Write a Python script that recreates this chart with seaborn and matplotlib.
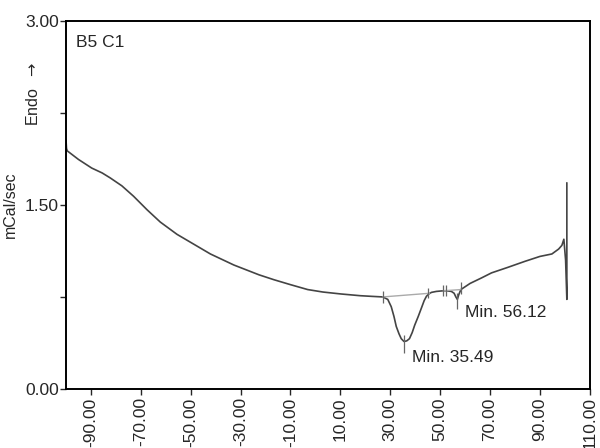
import seaborn as sns
import pandas as pd
import matplotlib.pyplot as plt
from matplotlib.ticker import MultipleLocator, FormatStrFormatter

# DSC trace
temp = [-100.0, -99.8, -99.5, -95.0, -89.7, -85.5, -82.3, -77.6, -72.9, -67.5, -62.2, -55.5,
        -48.8, -42.1, -32.7, -22.6, -16.6, -10.0, -3.1, 3.0, 10.3, 18.0, 22.3, 27.0,
        29.0, 30.4, 31.5, 32.4, 33.5, 34.4, 35.5, 36.6, 37.7, 38.8, 39.8, 41.2, 42.5,
        43.6, 44.5, 45.5, 46.5, 48.5, 51.2, 52.5, 54.5, 55.6, 56.3, 56.9, 57.5, 58.3,
        62.0, 66.6, 70.6, 77.0, 84.0, 90.0, 94.8, 97.5, 98.8, 99.6, 100.3, 100.8, 100.8]
heat = [2.03, 1.96, 1.94, 1.87, 1.80, 1.76, 1.72, 1.655, 1.57, 1.46, 1.36, 1.26,
        1.18, 1.10, 1.01, 0.93, 0.89, 0.85, 0.81, 0.79, 0.774, 0.76, 0.755, 0.75,
        0.73, 0.67, 0.59, 0.51, 0.45, 0.41, 0.387, 0.392, 0.41, 0.46, 0.52, 0.59, 0.66,
        0.72, 0.755, 0.775, 0.787, 0.795, 0.80, 0.80, 0.795, 0.78, 0.75, 0.73, 0.77, 0.81,
        0.86, 0.905, 0.946, 0.99, 1.04, 1.08, 1.10, 1.14, 1.17, 1.22, 1.05, 0.73, 1.68]

# integration baselines
base1_t = [27.0, 45.8]
base1_h = [0.75, 0.78]
base2_t = [51.2, 58.3]
base2_h = [0.80, 0.81]

# short marker ticks (x, y_low, y_high)
mark_t = [27.0, 35.5, 45.3, 51.2, 52.5, 56.9, 58.3]
mark_lo = [0.70, 0.29, 0.74, 0.76, 0.76, 0.65, 0.77]
mark_hi = [0.80, 0.44, 0.82, 0.85, 0.85, 0.78, 0.87]

peak_labels = ["Min. 35.49", "Min. 56.12"]
peak_t = [35.49, 56.12]

sns.set_style("ticks")
plt.rcParams['font.family'] = ['Liberation Sans', 'DejaVu Sans']

fig = plt.figure(figsize=(6, 4.48), dpi=100)
ax = fig.add_axes([0.11, 0.1317, 0.873, 0.822])

df = pd.DataFrame({'t': temp, 'h': heat})
sns.lineplot(data=df, x='t', y='h', sort=False, estimator=None, color='#444444', lw=1.2, ax=ax)
sns.lineplot(x=base1_t, y=base1_h, color='#aaaaaa', lw=1.0, ax=ax)
sns.lineplot(x=base2_t, y=base2_h, color='#aaaaaa', lw=1.0, ax=ax)
ax.vlines(mark_t, mark_lo, mark_hi, color='#666666', lw=0.9)

ax.text(peak_t[0] + 3.3, 0.26, peak_labels[0], fontsize=12.5, va='center', ha='left')
ax.text(peak_t[1] + 4.0, 0.62, peak_labels[1], fontsize=12.5, va='center', ha='left')
ax.text(0.02, 0.96, "B5 C1", transform=ax.transAxes, fontsize=12.5, va='top', ha='left')

ax.set_xlim(-100, 110)
ax.set_ylim(0, 3)
ax.set_xticks(list(range(-90, 111, 20)))
ax.xaxis.set_major_formatter(FormatStrFormatter('%.2f'))
ax.yaxis.set_major_locator(MultipleLocator(1.5))
ax.yaxis.set_minor_locator(MultipleLocator(0.75))
ax.yaxis.set_major_formatter(FormatStrFormatter('%.2f'))
ax.tick_params(axis='x', labelrotation=90, labelsize=12.5, length=4, width=1, pad=2)
ax.tick_params(axis='y', which='major', labelsize=12.5, length=4, width=1, pad=1)
ax.tick_params(axis='y', which='minor', length=4, width=1)
for s in ax.spines.values():
    s.set_linewidth(1.4)
    s.set_color('black')

ax.set_xlabel('')
ax.set_ylabel('mCal/sec', fontsize=11.5)
ax.yaxis.set_label_coords(-0.092, 0.5)
# arrow through mathtext so it is drawn at a readable size
ax.text(-0.063, 0.80, "Endo  $\\rightarrow$", transform=ax.transAxes, rotation=90,
        fontsize=11.5, va='center', ha='center')

fig.savefig("out.png", dpi=100)
